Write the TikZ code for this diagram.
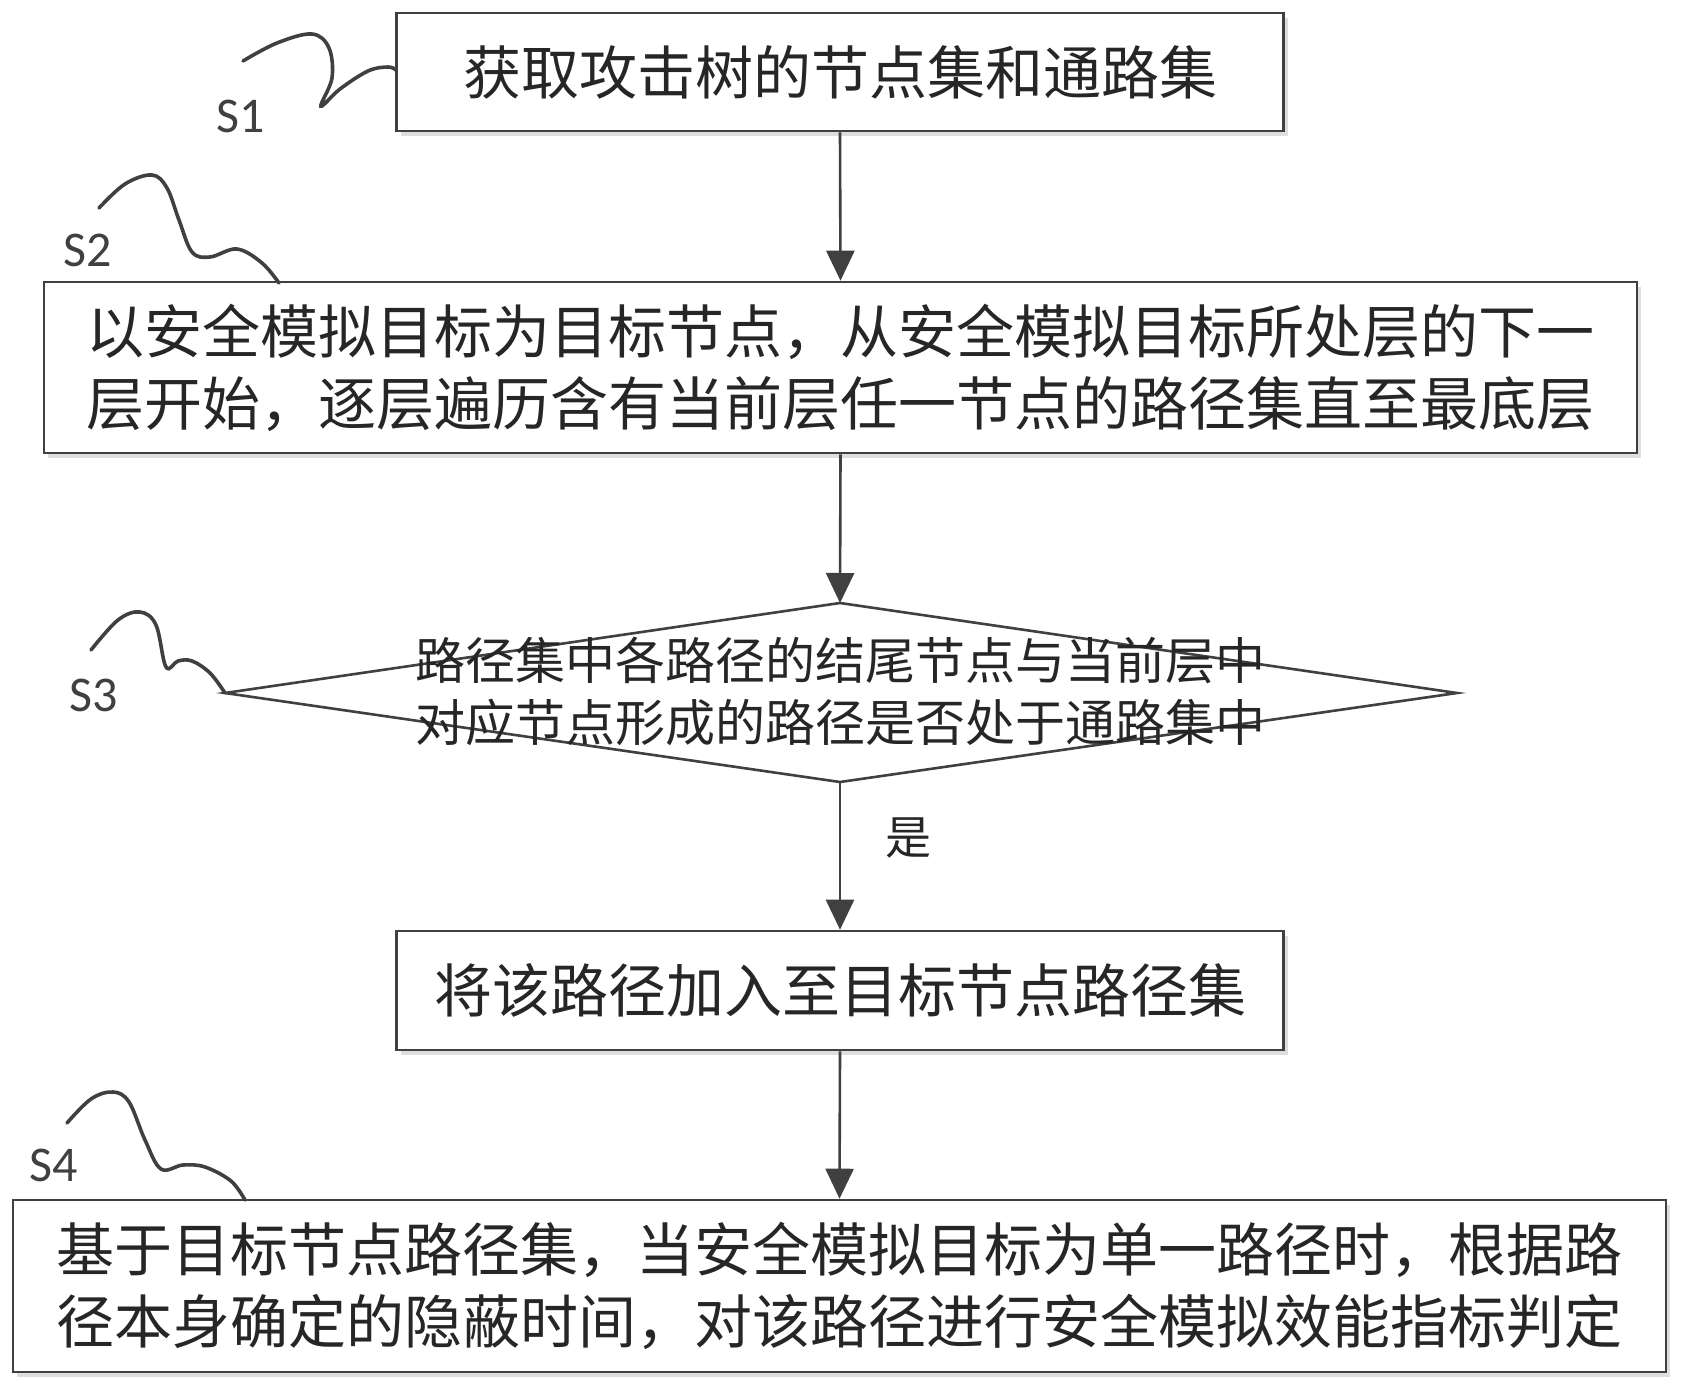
\documentclass[tikz,border=0pt]{standalone}
\usepackage{fontspec}
\newfontfamily\cjk{Noto Sans CJK SC}
\newfontfamily\lab{Carlito}
\usetikzlibrary{arrows.meta,shadows}
\definecolor{ln}{HTML}{404040}
\definecolor{tx}{HTML}{262626}
\tikzset{
  box/.style={draw=ln, line width=1.3pt, fill=white, rectangle, inner sep=0pt, align=center,
    text=tx, font=\cjk\fontsize{29pt}{36pt}\selectfont,
    general shadow={fill=black!13, draw=none, shadow xshift=2pt, shadow yshift=-2.5pt}},
  flow/.style={draw=ln, line width=1.3pt, -{Triangle[length=15pt,width=14pt]}},
  squig/.style={draw=ln, line width=1.8pt, line cap=round},
  steplabel/.style={text=ln, font=\lab\fontsize{25pt}{30pt}\selectfont, inner sep=0pt},
}
\begin{document}
\begin{tikzpicture}[x=0.5pt,y=-0.5pt]
\useasboundingbox[fill=white] (0,0) rectangle (1687,1392);

\node[box, minimum width=443.5pt, minimum height=59pt] (b1) at (840,72) {获取攻击树的节点集和通路集};
\node[box, minimum width=796.5pt, minimum height=85.5pt] (b2) at (840.5,367.5)
  {以安全模拟目标为目标节点，从安全模拟目标所处层的下一\\层开始，逐层遍历含有当前层任一节点的路径集直至最底层};
\coordinate (dtop) at (840,603);
\coordinate (dbot) at (840,782);
\coordinate (dleft) at (225,693);
\coordinate (dright) at (1457,693);
\draw[draw=ln, line width=1.3pt, fill=white, line join=miter] (dtop) -- (dright) -- (dbot) -- (dleft) -- cycle;
\node[align=center, text=tx, font=\cjk\fontsize{25pt}{31pt}\selectfont, inner sep=0pt] (dtext) at (840,691)
  {路径集中各路径的结尾节点与当前层中\\对应节点形成的路径是否处于通路集中};
\node[box, minimum width=443.5pt, minimum height=59.5pt] (b3) at (840,990.5) {将该路径加入至目标节点路径集};
\node[box, minimum width=826.5pt, minimum height=86pt] (b4) at (839.5,1286)
  {基于目标节点路径集，当安全模拟目标为单一路径时，根据路\\径本身确定的隐蔽时间，对该路径进行安全模拟效能指标判定};

\draw[flow] (b1.south) -- (b2.north);
\draw[flow] (b2.south) -- (dtop);
\draw[flow] (dbot) -- (b3.north);
\node[text=tx, font=\cjk\fontsize{23pt}{28pt}\selectfont, inner sep=0pt] (yes) at (908,838) {是};
\draw[flow] (b3.south) -- (b4.north);

% step labels and squiggles
\node[steplabel] (s1) at (241,116) {S1};
\node[steplabel] (s2) at (88,250) {S2};
\node[steplabel] (s3) at (94,695) {S3};
\node[steplabel] (s4) at (54,1165) {S4};

\draw[squig] plot[smooth, tension=0.6] coordinates {(243,61) (277,43) (312,34) (329,48) (332,78) (321,106) (340,89) (368,71) (388,67) (396,70)};
\draw[squig] plot[smooth, tension=0.6] coordinates {(99,208) (125,184) (152,175) (167,188) (179,220) (192,252) (210,257) (237,249) (262,263) (279,283)};
\draw[squig] plot[smooth, tension=0.6] coordinates {(91,650) (118,620) (140,612) (156,625) (166,667) (178,661) (192,661) (210,673) (225,693)};
\draw[squig] plot[smooth, tension=0.6] coordinates {(67,1123) (91,1099) (113,1092) (129,1102) (145,1140) (161,1169) (183,1165) (205,1167) (231,1181) (245,1200)};
\end{tikzpicture}
\end{document}
